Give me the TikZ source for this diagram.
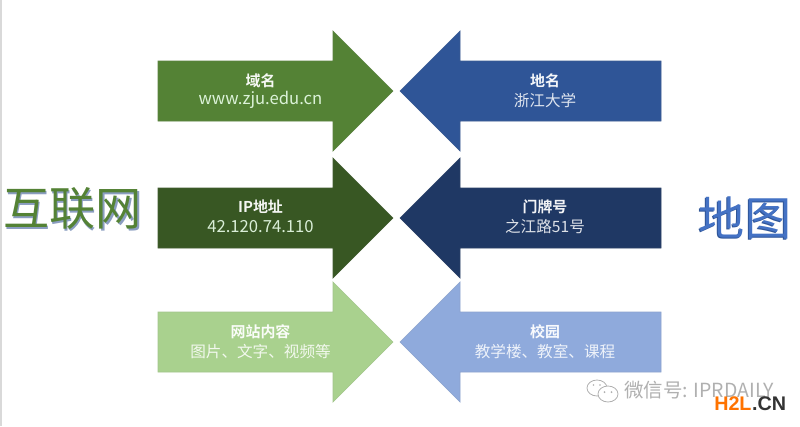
\documentclass[tikz,border=0pt]{standalone}
\usepackage{fontspec}
\setmainfont{Noto Sans CJK SC}[BoldFont={Noto Sans CJK SC Bold}]
\newfontfamily\markfont{Liberation Sans}
\definecolor{greenA}{HTML}{548235}
\definecolor{greenB}{HTML}{385723}
\definecolor{greenC}{HTML}{A9D18E}
\definecolor{blueA}{HTML}{2F5597}
\definecolor{blueB}{HTML}{1F3864}
\definecolor{blueC}{HTML}{8FAADC}
\definecolor{blueD}{HTML}{4472C4}
\definecolor{wechatgray}{HTML}{B0B0B0}
\tikzset{
	headtext/.style={font=\fontsize{11.2pt}{13pt}\selectfont\bfseries, text=white, text opacity=.95, inner sep=0pt},
	subtext/.style={font=\fontsize{11.7pt}{13pt}\selectfont, text=white, text opacity=.85, inner sep=0pt},
	latintext/.style={font=\fontsize{12.5pt}{14pt}\selectfont, text=green!8!white, text opacity=.9, inner sep=0pt},
	bigtext/.style={font=\fontsize{34.6pt}{37pt}\selectfont, inner sep=0pt},
	marktext/.style={font=\fontsize{14.6pt}{16pt}\selectfont, text=wechatgray, inner sep=0pt},
	sitemark/.style={font=\markfont\fontsize{14.8pt}{15pt}\selectfont\bfseries, inner sep=0pt},
	bubble/.style={draw=wechatgray, fill=white, line width=.6pt}
}
\begin{document}
\begin{tikzpicture}[x=.75pt,y=-.75pt]
	\useasboundingbox[fill=white] (0,0) rectangle (800,426);
	\fill[black!15] (0,0) rectangle (1.5,426);
	%%%%%%%%%%%%%%%%%%%%%%%%%%%%%%%%
	\foreach \yc/\lcol/\rcol in {91/greenA/blueA, 218/greenB/blueB, 342/greenC/blueC}{
		\draw[fill=\lcol, draw=\lcol!85!gray, line width=.5pt] (158,\yc-30)--(333,\yc-30)--(333,\yc-60)--(393,\yc)--(333,\yc+60)--(333,\yc+30)--(158,\yc+30)--cycle;
		\draw[fill=\rcol, draw=\rcol!85!gray, line width=.5pt] (661,\yc-30)--(460,\yc-30)--(460,\yc-60)--(400,\yc)--(460,\yc+60)--(460,\yc+30)--(661,\yc+30)--cycle;
	}
	%%%%%%%%%%%%%%%%%%%%%%%%%%%%%%%%
	\node[headtext] (domain) at (260.5,81){域名};
	\node[latintext] (domainval) at (260.5,100){www.zju.edu.cn};
	\node[headtext] (ipaddr) at (260.5,207){IP地址};
	\node[latintext] (ipval) at (260.5,227){42.120.74.110};
	\node[headtext] (site) at (260.5,332){网站内容};
	\node[subtext] (siteval) at (260.5,352){图片、文字、视频等};
	%%%%%%%%%%%%%%%%%%%%%%%%%%%%%%%%
	\node[headtext] (place) at (545,81){地名};
	\node[subtext] (placeval) at (545,100){浙江大学};
	\node[headtext] (doorno) at (545,207){门牌号};
	\node[subtext] (doorval) at (545,227){之江路51号};
	\node[headtext] (campus) at (545,332){校园};
	\node[subtext] (campusval) at (545,352){教学楼、教室、课程};
	%%%%%%%%%%%%%%%%%%%%%%%%%%%%%%%%
	\node[bigtext, text=blueC!70!gray] (webshadow) at (74,210.5){互联网};
	\node[bigtext, text=greenA] (web) at (72.5,209){互联网};
	\node[bigtext, text=blueA] (mapshadow) at (744,218.5){地图};
	\node[bigtext, text=blueD] (map) at (745,217.5){地图};
	%%%%%%%%%%%%%%%%%%%%%%%%%%%%%%%%
	\draw[bubble] (597,388) ellipse (10 and 8);
	\draw[bubble] (608,394) ellipse (10 and 8);
	\fill[wechatgray] (593.5,385) circle (.8) (600,385) circle (.8);
	\fill[wechatgray] (604.5,392) circle (1) (611.5,392) circle (1);
	\node[marktext, anchor=west] (wechat) at (624,390){微信号: IPRDAILY};
	\node[sitemark, anchor=west, text=orange!90!red] (hl) at (714,403.5){H2L};
	\node[sitemark, anchor=west, text=black!80] (cn) at (hl.east){.CN};
\end{tikzpicture}
\end{document}
